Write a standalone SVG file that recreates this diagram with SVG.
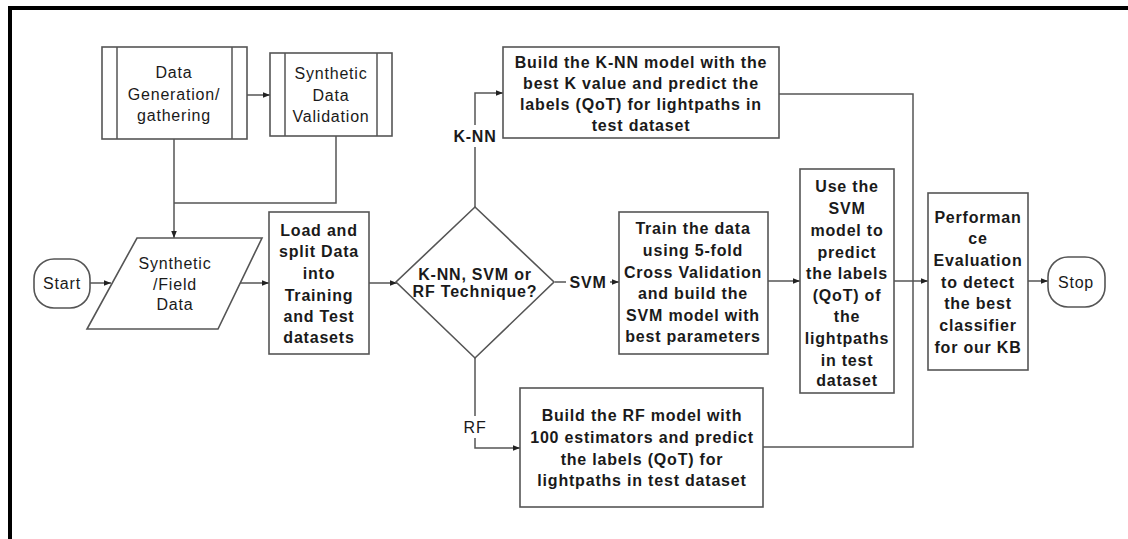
<svg xmlns="http://www.w3.org/2000/svg" width="1128" height="539" viewBox="0 0 1128 539">
  <defs>
    <marker id="arrow" viewBox="0 0 10 10" refX="10" refY="5" markerWidth="7" markerHeight="7" markerUnits="userSpaceOnUse" orient="auto">
      <path d="M0,1 L10,5 L0,9 Z" fill="#222"/>
    </marker>
    <style>
      .box { fill: #fff; stroke: #555; stroke-width: 1.6; }
      .edge { fill: none; stroke: #555; stroke-width: 1.5; }
      .arr { marker-end: url(#arrow); }
      .t { font-family: "Liberation Sans", Arial, sans-serif; font-size: 16px; fill: #1a1a1a; text-anchor: middle; letter-spacing: 0.8px; }
      .b { font-weight: bold; }
      .lbl { fill: #fff; stroke: none; }
    </style>
  </defs>

  <rect width="1128" height="539" fill="#fff"/>
  <!-- outer frame (top and left edges) -->
  <path d="M10,539 V8 H1128" fill="none" stroke="#000" stroke-width="4"/>

  <g id="connectors">
    <path class="edge arr" d="M247,95 H270"/>
    <path class="edge arr" d="M174,139 V238"/>
    <path class="edge" d="M336,136 V203 H174"/>
    <path class="edge arr" d="M90,283 H111"/>
    <path class="edge arr" d="M240,283 H269"/>
    <path class="edge arr" d="M369,283 H397"/>
    <path class="edge arr" d="M475,207 V93 H503"/>
    <path class="edge arr" d="M555,282 H619"/>
    <path class="edge arr" d="M475,358 V448 H520"/>
    <path class="edge arr" d="M768,281 H800"/>
    <path class="edge" d="M779,94 H913 V447 H763"/>
    <path class="edge arr" d="M894,281 H928"/>
    <path class="edge arr" d="M1028,281 H1048"/>
    <!-- branch labels -->
    <rect class="lbl" x="452" y="125" width="46" height="22"/>
    <text class="t b" x="475" y="142">K-NN</text>
    <rect class="lbl" x="566" y="272" width="44" height="20"/>
    <text class="t b" x="588" y="288">SVM</text>
    <rect class="lbl" x="461" y="416" width="28" height="22"/>
    <text class="t" x="475" y="433">RF</text>
  </g>

  <g id="data-generation">
    <rect class="box" x="102" y="47" width="145" height="92"/>
    <path class="edge" d="M117,47 V139 M232,47 V139"/>
    <text class="t" x="174" y="78">Data</text>
    <text class="t" x="174" y="100">Generation/</text>
    <text class="t" x="174" y="121">gathering</text>
  </g>

  <g id="data-validation">
    <rect class="box" x="270" y="53" width="122" height="83"/>
    <path class="edge" d="M285,53 V136 M377,53 V136"/>
    <text class="t" x="331" y="79">Synthetic</text>
    <text class="t" x="331" y="101">Data</text>
    <text class="t" x="331" y="122">Validation</text>
  </g>

  <g id="start">
    <rect class="box" x="34" y="259" width="56" height="49" rx="20"/>
    <text class="t" x="62" y="289">Start</text>
  </g>

  <g id="field-data">
    <path class="box" d="M137,238 H262 L218,329 H87 Z"/>
    <text class="t" x="175" y="269">Synthetic</text>
    <text class="t" x="175" y="290">/Field</text>
    <text class="t" x="175" y="310">Data</text>
  </g>

  <g id="load-split">
    <rect class="box" x="269" y="212" width="100" height="142"/>
    <text class="t b" x="319" y="236">Load and</text>
    <text class="t b" x="319" y="257">split Data</text>
    <text class="t b" x="319" y="279">into</text>
    <text class="t b" x="319" y="301">Training</text>
    <text class="t b" x="319" y="322">and Test</text>
    <text class="t b" x="319" y="343">datasets</text>
  </g>

  <g id="technique">
    <path class="box" d="M475,207 L554,282 L475,358 L396,282 Z"/>
    <text class="t b" x="475" y="280">K-NN, SVM or</text>
    <text class="t b" x="475" y="297">RF Technique?</text>
  </g>

  <g id="knn-model">
    <rect class="box" x="503" y="47" width="276" height="91"/>
    <text class="t b" x="641" y="68">Build the K-NN model with the</text>
    <text class="t b" x="641" y="89">best K value and predict the</text>
    <text class="t b" x="641" y="110">labels (QoT) for lightpaths in</text>
    <text class="t b" x="641" y="131">test dataset</text>
  </g>

  <g id="svm-train">
    <rect class="box" x="619" y="212" width="149" height="142"/>
    <text class="t b" x="693" y="234">Train the data</text>
    <text class="t b" x="693" y="256">using 5-fold</text>
    <text class="t b" x="693" y="278">Cross Validation</text>
    <text class="t b" x="693" y="299">and build the</text>
    <text class="t b" x="693" y="321">SVM model with</text>
    <text class="t b" x="693" y="342">best parameters</text>
  </g>

  <g id="svm-predict">
    <rect class="box" x="800" y="169" width="94" height="224"/>
    <text class="t b" x="847" y="192">Use the</text>
    <text class="t b" x="847" y="214">SVM</text>
    <text class="t b" x="847" y="236">model to</text>
    <text class="t b" x="847" y="258">predict</text>
    <text class="t b" x="847" y="279">the labels</text>
    <text class="t b" x="847" y="301">(QoT) of</text>
    <text class="t b" x="847" y="322">the</text>
    <text class="t b" x="847" y="344">lightpaths</text>
    <text class="t b" x="847" y="366">in test</text>
    <text class="t b" x="847" y="386">dataset</text>
  </g>

  <g id="rf-model">
    <rect class="box" x="520" y="388" width="243" height="119"/>
    <text class="t b" x="642" y="421">Build the RF model with</text>
    <text class="t b" x="642" y="443">100 estimators and predict</text>
    <text class="t b" x="642" y="465">the labels (QoT) for</text>
    <text class="t b" x="642" y="486">lightpaths in test dataset</text>
  </g>

  <g id="evaluation">
    <rect class="box" x="928" y="193" width="100" height="177"/>
    <text class="t b" x="978" y="223">Performan</text>
    <text class="t b" x="978" y="244">ce</text>
    <text class="t b" x="978" y="266">Evaluation</text>
    <text class="t b" x="978" y="288">to detect</text>
    <text class="t b" x="978" y="309">the best</text>
    <text class="t b" x="978" y="331">classifier</text>
    <text class="t b" x="978" y="353">for our KB</text>
  </g>

  <g id="stop">
    <rect class="box" x="1048" y="257" width="57" height="50" rx="20"/>
    <text class="t" x="1076" y="288">Stop</text>
  </g>
</svg>
